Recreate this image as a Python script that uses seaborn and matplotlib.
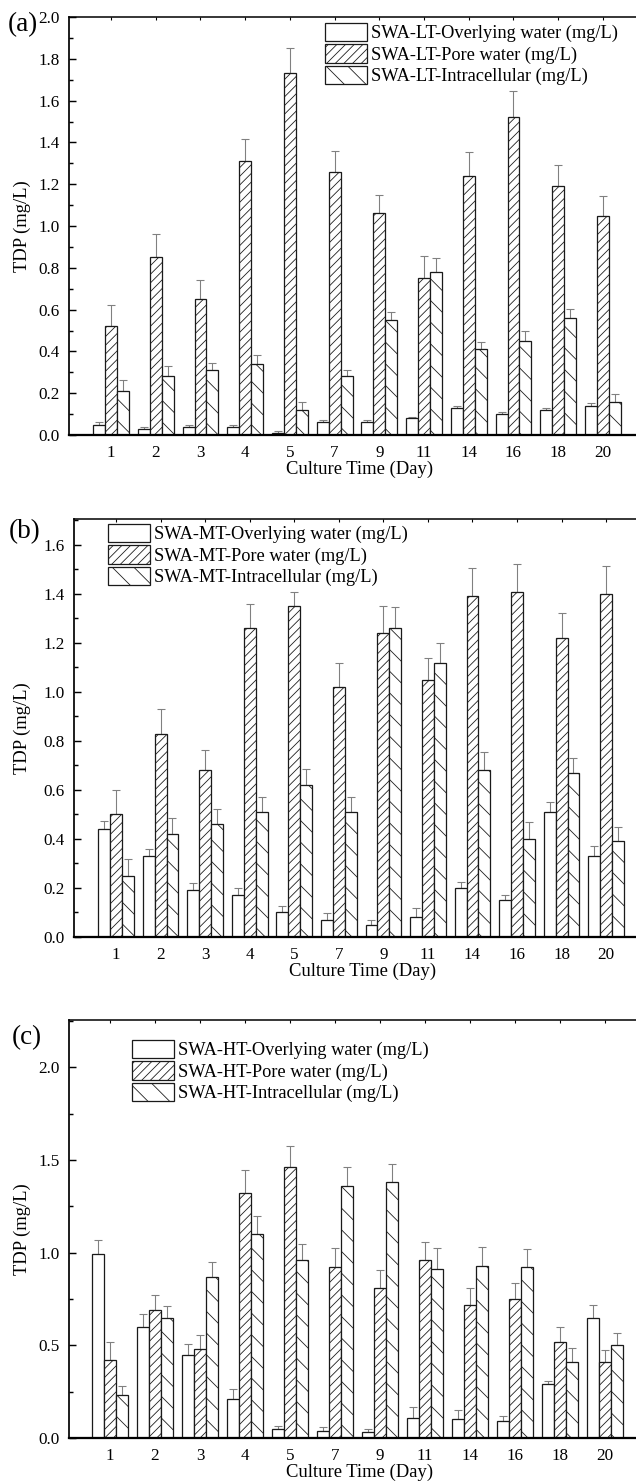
import numpy as np
import pandas as pd
import matplotlib
matplotlib.use("Agg")
import matplotlib.pyplot as plt
import seaborn as sns
from matplotlib.ticker import MultipleLocator, FormatStrFormatter, FixedLocator

# ---------------- data ----------------
days = ['1', '2', '3', '4', '5', '7', '9', '11', '14', '16', '18', '20']

lt_labels = ['SWA-LT-Overlying water (mg/L)', 'SWA-LT-Pore water (mg/L)', 'SWA-LT-Intracellular (mg/L)']
lt_ovl = [0.05, 0.03, 0.04, 0.04, 0.01, 0.06, 0.06, 0.08, 0.13, 0.10, 0.12, 0.14]
lt_ovl_err = [0.01, 0.007, 0.008, 0.01, 0.008, 0.01, 0.01, 0.008, 0.011, 0.01, 0.01, 0.011]
lt_pore = [0.52, 0.85, 0.65, 1.31, 1.73, 1.26, 1.06, 0.75, 1.24, 1.52, 1.19, 1.05]
lt_pore_err = [0.10, 0.11, 0.09, 0.105, 0.12, 0.10, 0.09, 0.105, 0.115, 0.125, 0.10, 0.095]
lt_intra = [0.21, 0.28, 0.31, 0.34, 0.12, 0.28, 0.55, 0.78, 0.41, 0.45, 0.56, 0.16]
lt_intra_err = [0.053, 0.048, 0.033, 0.042, 0.037, 0.03, 0.037, 0.065, 0.037, 0.047, 0.045, 0.037]

mt_labels = ['SWA-MT-Overlying water (mg/L)', 'SWA-MT-Pore water (mg/L)', 'SWA-MT-Intracellular (mg/L)']
mt_ovl = [0.44, 0.33, 0.19, 0.17, 0.10, 0.07, 0.05, 0.08, 0.20, 0.15, 0.51, 0.33]
mt_ovl_err = [0.035, 0.03, 0.03, 0.03, 0.025, 0.028, 0.02, 0.04, 0.024, 0.022, 0.04, 0.04]
mt_pore = [0.50, 0.83, 0.68, 1.26, 1.35, 1.02, 1.24, 1.05, 1.39, 1.41, 1.22, 1.40]
mt_pore_err = [0.10, 0.10, 0.085, 0.10, 0.06, 0.097, 0.112, 0.09, 0.114, 0.113, 0.102, 0.114]
mt_intra = [0.25, 0.42, 0.46, 0.51, 0.62, 0.51, 1.26, 1.12, 0.68, 0.40, 0.67, 0.39]
mt_intra_err = [0.068, 0.065, 0.062, 0.06, 0.065, 0.06, 0.087, 0.079, 0.076, 0.068, 0.06, 0.057]

ht_labels = ['SWA-HT-Overlying water (mg/L)', 'SWA-HT-Pore water (mg/L)', 'SWA-HT-Intracellular (mg/L)']
ht_ovl = [0.99, 0.60, 0.45, 0.21, 0.05, 0.04, 0.03, 0.11, 0.10, 0.09, 0.29, 0.65]
ht_ovl_err = [0.08, 0.07, 0.058, 0.056, 0.013, 0.022, 0.018, 0.056, 0.049, 0.03, 0.015, 0.07]
ht_pore = [0.42, 0.69, 0.48, 1.32, 1.46, 0.92, 0.81, 0.96, 0.72, 0.75, 0.52, 0.41]
ht_pore_err = [0.10, 0.081, 0.078, 0.126, 0.116, 0.106, 0.097, 0.097, 0.087, 0.084, 0.079, 0.063]
ht_intra = [0.23, 0.65, 0.87, 1.10, 0.96, 1.36, 1.38, 0.91, 0.93, 0.92, 0.41, 0.50]
ht_intra_err = [0.05, 0.063, 0.08, 0.10, 0.088, 0.10, 0.10, 0.115, 0.10, 0.10, 0.077, 0.068]

x_label = 'Culture Time (Day)'
y_label = 'TDP (mg/L)'

# ---------------- style ----------------
sns.set_style('white')
plt.rcParams['font.family'] = ['Liberation Serif', 'DejaVu Serif']
plt.rcParams['hatch.linewidth'] = 0.45
plt.rcParams['axes.edgecolor'] = 'black'
plt.rcParams['xtick.color'] = 'black'
plt.rcParams['ytick.color'] = 'black'
plt.rcParams['text.color'] = 'black'
plt.rcParams['axes.labelcolor'] = 'black'

DPI = 130
W, H = 636, 1481
fig = plt.figure(figsize=(W / DPI, H / DPI), dpi=DPI)

hatches = ['', '/////', '\\\\']

panels = [
    dict(letter='(a)', labels=lt_labels, vals=[lt_ovl, lt_pore, lt_intra],
         errs=[lt_ovl_err, lt_pore_err, lt_intra_err], ylim=2.0, major=0.2, minor=0.1,
         left=69, top=17, bottom=435, xlim=(-0.94, 11.74), leg=(325, 23), lab=(23, 25)),
    dict(letter='(b)', labels=mt_labels, vals=[mt_ovl, mt_pore, mt_intra],
         errs=[mt_ovl_err, mt_pore_err, mt_intra_err], ylim=1.706, major=0.2, minor=0.1,
         left=74, top=519, bottom=937, xlim=(-0.943, 11.67), leg=(108, 524), lab=(25, 532)),
    dict(letter='(c)', labels=ht_labels, vals=[ht_ovl, ht_pore, ht_intra],
         errs=[ht_ovl_err, ht_pore_err, ht_intra_err], ylim=2.255, major=0.5, minor=0.25,
         left=69, top=1020, bottom=1438, xlim=(-0.91, 11.69), leg=(132, 1040), lab=(27, 1038)),
]

for P in panels:
    left, top, bottom = P['left'], P['top'], P['bottom']
    ax = fig.add_axes([left / W, 1 - bottom / H, 1 - left / W, (bottom - top) / H])
    labels = P['labels']
    df = pd.DataFrame({
        'day': days * 3,
        'series': [labels[0]] * 12 + [labels[1]] * 12 + [labels[2]] * 12,
        'value': P['vals'][0] + P['vals'][1] + P['vals'][2],
    })
    sns.barplot(data=df, x='day', y='value', hue='series', order=days, hue_order=labels,
                palette=['white'] * 3, saturation=1, errorbar=None, width=0.8,
                edgecolor='#1a1a1a', linewidth=0.7, ax=ax, legend=False, zorder=2)
    for cont, h in zip(ax.containers, hatches):
        for p in cont:
            p.set_hatch(h)
    for cont, errs in zip(ax.containers, P['errs']):
        xs = [p.get_x() + p.get_width() / 2 for p in cont]
        ys = [p.get_height() for p in cont]
        ax.errorbar(xs, ys, yerr=[np.zeros(len(errs)), errs], fmt='none', ecolor='#808080',
                    elinewidth=0.6, capsize=2.2, capthick=0.6, zorder=1)

    ax.set_xlim(*P['xlim'])
    ax.set_ylim(0, P['ylim'])
    ax.yaxis.set_major_locator(MultipleLocator(P['major']))
    ax.yaxis.set_minor_locator(MultipleLocator(P['minor']))
    ax.yaxis.set_major_formatter(FormatStrFormatter('%.1f'))

    ax.tick_params(axis='y', which='major', direction='in', length=3.9, width=0.8, pad=5,
                   labelsize=9.4, left=True, right=False)
    ax.tick_params(axis='y', which='minor', direction='in', length=2.2, width=0.8,
                   left=True, right=False)
    ax.tick_params(axis='x', which='major', direction='in', length=1.7, width=0.6,
                   top=True, bottom=True, pad=5.5, labelsize=9.4)

    for s in ['left']:
        ax.spines[s].set_linewidth(0.95)
    ax.spines['top'].set_linewidth(0.85)
    ax.spines['bottom'].set_linewidth(1.25)
    ax.spines['right'].set_visible(False)

    ax.set_ylabel(y_label, fontsize=10.3)
    ax.yaxis.set_label_coords((31 - left) / (W - left), 0.5)
    ax.set_xlabel(x_label, fontsize=10.3)
    ax.xaxis.set_label_coords(0.513, -(26) / (bottom - top))

    lx, ly = P['leg']
    ax.legend(ax.containers, labels, loc='upper left', bbox_to_anchor=(lx / W, 1 - ly / H),
              bbox_transform=fig.transFigure, frameon=False, fontsize=10.2,
              handlelength=2.28, handleheight=1.14, labelspacing=0.11, handletextpad=0.22,
              borderpad=0, borderaxespad=0)

    fx, fy = P['lab']
    fig.text(fx / W, 1 - fy / H, P['letter'], ha='center', va='center', fontsize=15)

fig.savefig('out.png', dpi=DPI)
